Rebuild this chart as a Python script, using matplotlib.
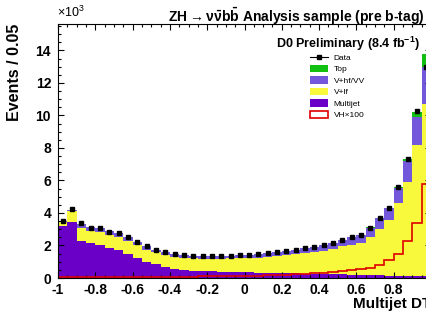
import numpy as np
import matplotlib
matplotlib.use('Agg')
import matplotlib.pyplot as plt
from matplotlib.patches import Patch
from matplotlib.lines import Line2D
from matplotlib.ticker import MultipleLocator, FuncFormatter

plt.rcParams['font.family'] = ['Liberation Sans', 'DejaVu Sans']
plt.rcParams['axes.unicode_minus'] = False
plt.rcParams['mathtext.default'] = 'regular'

# ---------- data (events in units of 10^3, bins of 0.05 from -1 to 1) ----------
bin_width = 0.05
edges = np.round(np.arange(-1.0, 1.0 + bin_width / 2, bin_width), 3)
centers = edges[:-1] + bin_width / 2

data = [3.50, 4.25, 3.40, 3.10, 3.05, 2.85, 2.75, 2.50, 2.20, 1.95,
        1.75, 1.60, 1.45, 1.40, 1.38, 1.36, 1.35, 1.35, 1.38, 1.40,
        1.42, 1.45, 1.52, 1.58, 1.65, 1.75, 1.82, 1.90, 2.00, 2.15,
        2.35, 2.50, 2.65, 3.10, 3.70, 4.30, 5.60, 7.30, 10.30, 13.00]

multijet = [3.20, 3.45, 2.30, 2.15, 2.00, 1.85, 1.70, 1.45, 1.20, 1.00,
            0.85, 0.70, 0.58, 0.50, 0.45, 0.42, 0.40, 0.38, 0.36, 0.35,
            0.34, 0.33, 0.32, 0.31, 0.30, 0.28, 0.27, 0.26, 0.25, 0.24,
            0.22, 0.20, 0.20, 0.18, 0.16, 0.15, 0.14, 0.12, 0.10, 0.10]

v_lf = [0.25, 0.65, 0.80, 0.75, 0.80, 0.80, 0.80, 0.80, 0.80, 0.75,
        0.72, 0.72, 0.70, 0.73, 0.76, 0.77, 0.78, 0.80, 0.84, 0.86,
        0.88, 0.92, 0.98, 1.04, 1.10, 1.20, 1.27, 1.34, 1.43, 1.56,
        1.73, 1.85, 1.95, 2.32, 2.84, 3.40, 4.50, 5.80, 8.10, 10.60]

v_hf = [0.05, 0.10, 0.25, 0.25, 0.25, 0.25, 0.25, 0.25, 0.20, 0.20,
        0.18, 0.18, 0.17, 0.17, 0.17, 0.17, 0.17, 0.17, 0.18, 0.19,
        0.20, 0.20, 0.22, 0.23, 0.25, 0.27, 0.28, 0.30, 0.32, 0.35,
        0.40, 0.45, 0.50, 0.60, 0.70, 0.75, 0.90, 1.30, 1.70, 2.30]

top = [0.00, 0.00, 0.00, 0.00, 0.00, 0.00, 0.00, 0.00, 0.00, 0.00,
       0.00, 0.00, 0.00, 0.00, 0.00, 0.00, 0.00, 0.00, 0.00, 0.00,
       0.00, 0.00, 0.00, 0.00, 0.00, 0.00, 0.00, 0.00, 0.00, 0.00,
       0.00, 0.00, 0.00, 0.01, 0.01, 0.02, 0.05, 0.10, 0.30, 0.80]

signal_x100 = [0.05, 0.05, 0.05, 0.05, 0.05, 0.05, 0.05, 0.05, 0.05, 0.05,
               0.07, 0.07, 0.08, 0.08, 0.09, 0.10, 0.10, 0.11, 0.12, 0.13,
               0.14, 0.15, 0.17, 0.19, 0.21, 0.23, 0.26, 0.29, 0.32, 0.36,
               0.42, 0.50, 0.55, 0.60, 0.80, 1.10, 1.50, 2.30, 3.40, 5.80]

labels = ['Data', 'Top', 'V+hf/VV', 'V+lf', 'Multijet', 'VH\u00d7100']
c_mj = '#6a00c8'
c_vlf = '#f8f83c'
c_vhf = '#7458dc'
c_top = '#12c012'
c_sig = '#dd0000'


def tick_fmt(v, pos):
    v = round(v, 3)
    if v >= 0.99:
        return ''
    return '%g' % v


# ---------- figure ----------
fig = plt.figure(figsize=(4.27, 3.23), dpi=100)
ax = fig.add_axes([58 / 427, 45 / 323, 373 / 427, 254 / 323])

ax.hist([centers] * 4, bins=edges, weights=[multijet, v_lf, v_hf, top],
        stacked=True, histtype='stepfilled', color=[c_mj, c_vlf, c_vhf, c_top],
        linewidth=0)
ax.hist(centers, bins=edges, weights=signal_x100, histtype='step',
        color=c_sig, linewidth=1.2)
ax.plot(centers, data, 's', color='black', ms=3.0, zorder=5)

ax.set_xlim(-1, 1)
ax.set_ylim(0, 15.63)
ax.xaxis.set_major_locator(MultipleLocator(0.2))
ax.xaxis.set_minor_locator(MultipleLocator(0.05))
ax.yaxis.set_major_locator(MultipleLocator(2))
ax.yaxis.set_minor_locator(MultipleLocator(0.5))
ax.xaxis.set_major_formatter(FuncFormatter(tick_fmt))
ax.yaxis.set_major_formatter(FuncFormatter(lambda v, p: '%g' % round(v, 3)))
ax.tick_params(which='both', direction='in', top=True, right=True, width=0.8)
ax.tick_params(which='major', length=4.5)
ax.tick_params(which='minor', length=2.2)
ax.tick_params(axis='x', which='major', pad=3.5, labelsize=10)
ax.tick_params(axis='y', which='major', pad=5, labelsize=10)
for lab in ax.get_xticklabels() + ax.get_yticklabels():
    lab.set_fontweight('bold')
for sp in ax.spines.values():
    sp.set_linewidth(0.8)

ax.set_xlabel('Multijet DT', loc='right', fontsize=11, fontweight='bold', labelpad=0)
ax.set_ylabel('Events / 0.05', loc='top', fontsize=11.5, fontweight='bold', labelpad=10)

fig.text(168 / 427, 1 - 22 / 323,
         r'ZH$\rightarrow\nu\bar{\nu}b\bar{b}$ Analysis sample (pre b-tag)',
         fontsize=10, fontweight='bold', ha='left', va='baseline')
fig.text(57 / 427, 1 - 17 / 323, r'$\times$10$^{3}$', fontsize=9,
         ha='left', va='baseline')
ax.text(0.97, 0.905, r'D0 Preliminary (8.4 fb$^{-1}$)', transform=ax.transAxes,
        fontsize=9, fontweight='bold', ha='right', va='baseline')

handles = [Line2D([0], [0], color='black', marker='s', ms=3, lw=0.8),
           Patch(facecolor=c_top, edgecolor='none'),
           Patch(facecolor=c_vhf, edgecolor='none'),
           Patch(facecolor=c_vlf, edgecolor='none'),
           Patch(facecolor=c_mj, edgecolor='none'),
           Patch(facecolor='none', edgecolor=c_sig, linewidth=1.2)]
ax.legend(handles, labels, loc='upper left', bbox_to_anchor=(0.676, 0.885),
          frameon=False, fontsize=6, handlelength=2.2, handleheight=1.0,
          labelspacing=0.35, handletextpad=0.6, borderpad=0, borderaxespad=0)

fig.savefig('out.png', dpi=100)
